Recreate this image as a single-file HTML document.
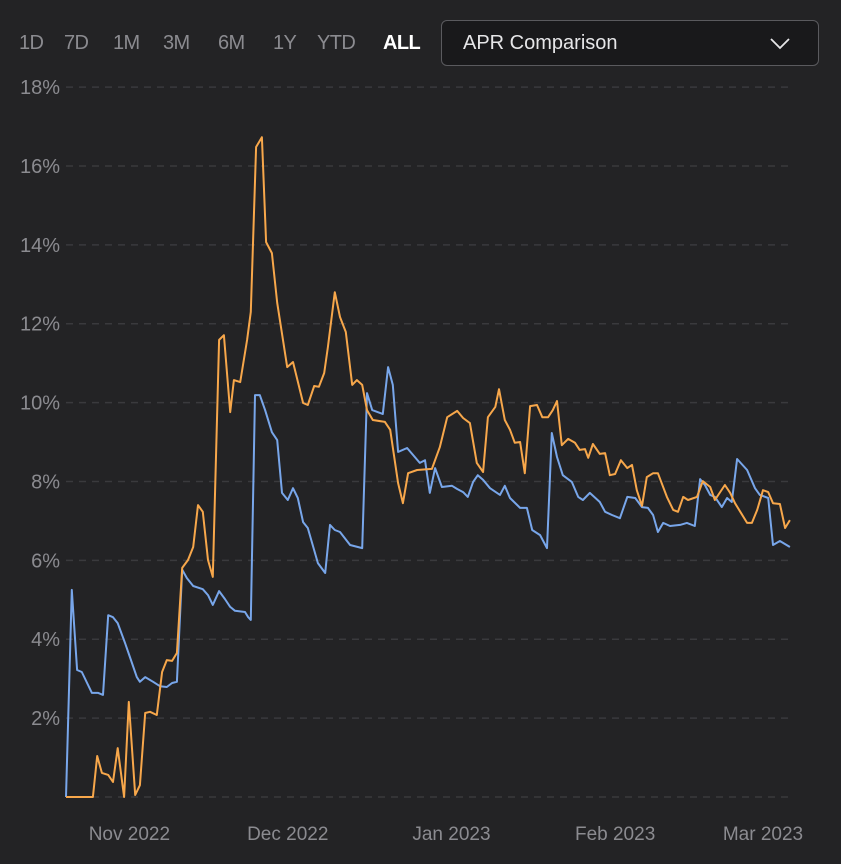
<!DOCTYPE html>
<html><head><meta charset="utf-8">
<style>
html,body{margin:0;padding:0;background:#232325;}
body{width:841px;height:864px;position:relative;overflow:hidden;font-family:"Liberation Sans",sans-serif;}
.rb{position:absolute;top:32px;font-size:20px;color:#8b8b90;letter-spacing:-0.6px;cursor:pointer}
.rb.on{color:#fff;font-weight:bold}
#dd{position:absolute;left:441px;top:20px;width:376px;height:44px;border:1px solid #5a5a5e;border-radius:6px;background:#19191b;box-sizing:content-box}
#dd span{position:absolute;left:21px;top:11px;font-size:20px;color:#e6e6e8}
svg{position:absolute;left:0;top:0}
</style></head><body>
<div class="rb" style="left:19px">1D</div>
<div class="rb" style="left:64px">7D</div>
<div class="rb" style="left:113px">1M</div>
<div class="rb" style="left:163px">3M</div>
<div class="rb" style="left:218px">6M</div>
<div class="rb" style="left:273px">1Y</div>
<div class="rb" style="left:317px">YTD</div>
<div class="rb on" style="left:383px">ALL</div>
<div id="dd"><span>APR Comparison</span>
<svg width="376" height="44"><polyline points="329,18 338,27 347,18" fill="none" stroke="#e6e6e8" stroke-width="1.8"/></svg></div>
<svg id="chart" width="841" height="864" style="top:0;left:0;pointer-events:none"></svg>
<script>
const yTicks=[2,4,6,8,10,12,14,16,18];
const xTickDays=[12,42,73,104,132];
const xTickLabels=["Nov 2022","Dec 2022","Jan 2023","Feb 2023","Mar 2023"];
const blueDays=[0,1.1,2.1,3.0,4.9,6.1,7.0,8.0,8.9,9.8,11.2,12.1,13.4,14.0,15.0,16.5,17.8,19.1,20.1,21.0,22.0,22.9,24.1,25.9,26.9,27.8,29.0,30.1,31.1,32.0,33.9,34.5,35.0,35.8,36.7,37.7,39.0,40.0,40.9,42.0,43.0,43.9,44.9,45.8,47.7,49.1,50.0,50.9,51.9,53.8,56.1,57.0,58.0,60.0,61.0,61.9,62.9,64.6,67.0,68.0,68.9,69.9,71.2,73.1,74.1,75.2,76.1,77.1,78.0,79.0,80.3,82.2,83.1,84.1,86.0,87.3,88.3,89.8,91.1,92.0,93.0,94.1,95.8,97.0,97.9,99.2,101.1,102.1,103.4,104.9,106.3,107.8,109.1,110.2,111.2,112.1,113.1,114.4,116.3,117.6,119.1,120.1,121.0,122.0,122.9,124.2,125.2,126.1,127.1,129.0,130.5,131.4,133.0,133.9,135.2,137.1];
const blueValues=[0,5.25,3.22,3.17,2.64,2.64,2.59,4.61,4.56,4.41,3.90,3.55,3.04,2.92,3.04,2.92,2.81,2.79,2.89,2.92,5.76,5.55,5.35,5.27,5.12,4.87,5.22,5.02,4.82,4.72,4.69,4.56,4.49,10.19,10.19,9.81,9.25,9.05,7.71,7.53,7.83,7.58,6.97,6.82,5.93,5.68,6.90,6.77,6.72,6.39,6.31,10.24,9.81,9.71,10.90,10.45,8.75,8.85,8.47,8.54,7.71,8.34,7.86,7.89,7.81,7.73,7.61,7.99,8.16,8.04,7.83,7.66,7.89,7.58,7.33,7.33,6.77,6.64,6.31,9.23,8.62,8.16,7.99,7.61,7.53,7.71,7.48,7.23,7.15,7.07,7.61,7.58,7.35,7.33,7.15,6.72,6.95,6.87,6.90,6.95,6.87,8.06,7.91,7.66,7.61,7.35,7.58,7.48,8.57,8.29,7.83,7.66,7.58,6.39,6.49,6.34];
const orangeDays=[0,5.1,5.9,6.8,8.0,8.9,9.8,11.0,11.9,13.1,14.0,15.0,15.9,17.2,18.2,19.1,20.1,21.0,22.0,23.1,24.1,25.0,25.9,26.9,27.8,29.0,29.9,31.1,31.8,33.0,34.3,35.0,36.0,37.1,37.9,39.0,40.0,41.9,43.0,44.9,45.8,47.0,47.9,48.9,49.6,50.9,51.9,53.0,54.2,55.1,56.1,57.0,58.1,60.4,61.4,62.9,63.8,64.8,66.5,69.3,70.8,72.2,74.1,75.2,76.5,77.8,79.0,79.9,81.3,82.0,83.1,84.1,85.0,86.0,86.9,87.9,89.2,90.2,91.3,92.2,93.0,93.9,95.1,96.4,97.3,98.3,98.9,99.8,101.1,102.1,103.0,104.0,105.1,106.3,107.2,108.1,109.1,110.0,111.2,112.1,113.8,115.0,115.9,116.9,117.8,119.5,120.6,122.0,122.9,124.8,125.8,126.7,127.7,129.0,129.9,130.9,132.0,133.0,133.9,135.2,136.2,137.1];
const orangeValues=[0,0,1.04,0.61,0.56,0.38,1.24,0,2.41,0.05,0.30,2.13,2.16,2.08,3.17,3.47,3.45,3.65,5.81,6.01,6.34,7.40,7.23,6.01,5.58,11.59,11.71,9.76,10.57,10.52,11.59,12.30,16.48,16.73,14.07,13.79,12.53,10.90,11.03,9.99,9.94,10.42,10.40,10.75,11.41,12.80,12.17,11.79,10.45,10.57,10.45,9.81,9.56,9.51,9.31,7.96,7.45,8.21,8.29,8.32,8.87,9.63,9.79,9.61,9.48,8.47,8.24,9.63,9.89,10.34,9.56,9.31,8.98,9.00,8.21,9.91,9.94,9.63,9.63,9.81,10.04,8.92,9.08,8.98,8.80,8.82,8.60,8.95,8.70,8.72,8.16,8.19,8.54,8.34,8.42,7.78,7.38,8.11,8.21,8.21,7.61,7.28,7.23,7.61,7.53,7.61,8.01,7.86,7.53,7.91,7.71,7.45,7.23,6.95,6.95,7.28,7.78,7.73,7.45,7.43,6.82,7.02];

const NS="http://www.w3.org/2000/svg";
const svg=document.getElementById('chart');
const X0=66,PXD=5.28,Y0=797,PXV=39.44;
function xScale(d){return X0+d*PXD;}
function yScale(v){return Y0-v*PXV;}
function mk(tag,attrs){const e=document.createElementNS(NS,tag);for(const k in attrs)e.setAttribute(k,attrs[k]);svg.appendChild(e);return e;}

const base=mk('line',{x1:X0,x2:790,y1:Y0,y2:Y0,stroke:'#3a3a3d','stroke-width':1.5,'stroke-dasharray':'7 6'});


yTicks.forEach(t=>{
  const g=mk('line',{x1:X0,x2:790,y1:yScale(t),y2:yScale(t),stroke:'#3a3a3d','stroke-width':1.5,'stroke-dasharray':'7 6'});
  
  
  const l=mk('text',{x:60,y:yScale(t)+7,'text-anchor':'end','font-size':20,fill:'#8b8b90','font-family':'Liberation Sans, sans-serif'});
  l.textContent=t+'%';
  
  
});
xTickDays.forEach((d,i)=>{
  const l=mk('text',{x:xScale(d),y:840,'text-anchor':'middle','font-size':19,fill:'#8b8b90','font-family':'Liberation Sans, sans-serif'});
  l.textContent=xTickLabels[i];
  
  
});
function series(days,vals,color,name){
  const pts=days.map((d,i)=>xScale(d).toFixed(1)+','+yScale(vals[i]).toFixed(1)).join(' ');
  const p=mk('polyline',{points:pts,fill:'none',stroke:color,'stroke-width':2,'stroke-linejoin':'round'});
  
  
}
series(blueDays,blueValues,'#78a6ea','blue-apr-line');
series(orangeDays,orangeValues,'#f7a74b','orange-apr-line');
</script>
</body></html>
